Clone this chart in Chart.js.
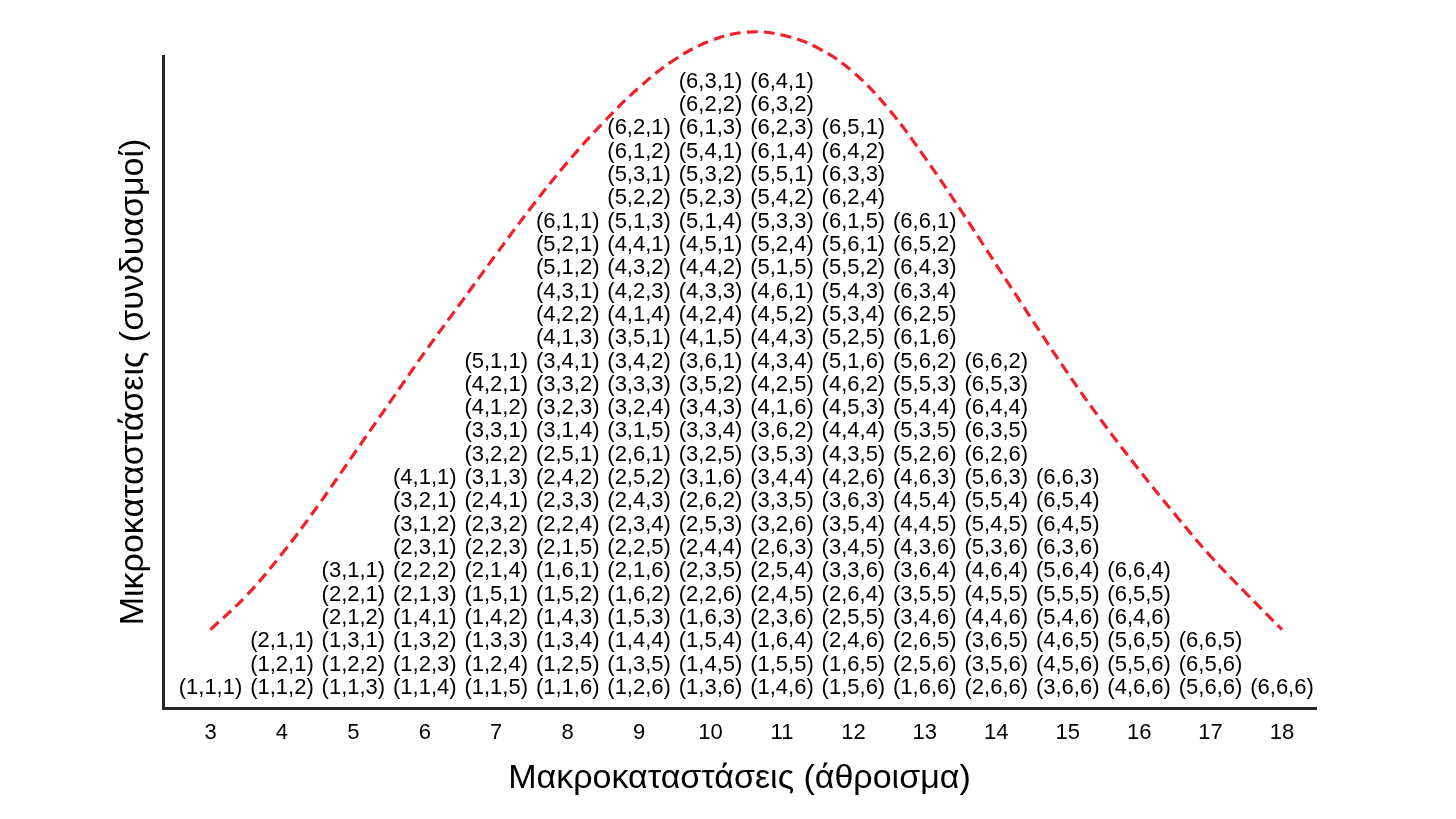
<!DOCTYPE html>
<html>
<head>
<meta charset="utf-8">
<script src="https://cdn.jsdelivr.net/npm/chart.js@4.4.1/dist/chart.umd.min.js"></script>
<style>
html,body{margin:0;padding:0;background:#ffffff;}
#wrap{width:1456px;height:819px;}
</style>
</head>
<body>
<div id="wrap"><canvas id="c" width="1456" height="819"></canvas></div>
<script>
// Macrostates (sum of three dice)
const sums = [3, 4, 5, 6, 7, 8, 9, 10, 11, 12, 13, 14, 15, 16, 17, 18];
// Number of microstates per macrostate
const counts = [1, 3, 6, 10, 15, 21, 25, 27, 27, 25, 21, 15, 10, 6, 3, 1];
// Microstates of each column, listed bottom to top
const columnCombos = [
  "111",
  "112 121 211",
  "113 122 131 212 221 311",
  "114 123 132 141 213 222 231 312 321 411",
  "115 124 133 142 151 214 223 232 241 313 322 331 412 421 511",
  "116 125 134 143 152 161 215 224 233 242 251 314 323 332 341 413 422 431 512 521 611",
  "126 135 144 153 162 216 225 234 243 252 261 315 324 333 342 351 414 423 432 441 513 522 531 612 621",
  "136 145 154 163 226 235 244 253 262 316 325 334 343 352 361 415 424 433 442 451 514 523 532 541 613 622 631",
  "146 155 164 236 245 254 263 326 335 344 353 362 416 425 434 443 452 461 515 524 533 542 551 614 623 632 641",
  "156 165 246 255 264 336 345 354 363 426 435 444 453 462 516 525 534 543 552 561 615 624 633 642 651",
  "166 256 265 346 355 364 436 445 454 463 526 535 544 553 562 616 625 634 643 652 661",
  "266 356 365 446 455 464 536 545 554 563 626 635 644 653 662",
  "366 456 465 546 555 564 636 645 654 663",
  "466 556 565 646 655 664",
  "566 656 665",
  "666"
];
// Red dashed envelope curve
const curveX = [3, 3.5, 4, 4.5, 5, 5.5, 6, 6.5, 7, 7.5, 8, 8.5, 9, 9.5, 10, 10.5, 11, 11.5, 12, 12.5, 13, 13.5, 14, 14.5, 15, 15.5, 16, 16.5, 17, 17.5, 18];
const curveY = [3.5, 4.95, 6.75, 8.8, 11.0, 13.2, 15.4, 17.5, 19.6, 21.65, 23.55, 25.25, 26.75, 27.95, 28.75, 29.12, 29.0, 28.45, 27.4, 25.8, 23.75, 21.5, 19.15, 16.8, 14.5, 12.35, 10.35, 8.45, 6.65, 5.05, 3.5];

const xTitle = "Μακροκαταστάσεις (άθροισμα)";
const yTitle = "Μικροκαταστάσεις (συνδυασμοί)";
const FONT = '"Liberation Sans", Arial, Helvetica, sans-serif';

const comboPoints = [];
sums.forEach((s, i) => {
  const list = columnCombos[i].split(' ').slice(0, counts[i]);
  list.forEach((c, k) => {
    comboPoints.push({ x: s, y: k + 1, label: '(' + c.split('').join(',') + ')' });
  });
});
const curvePoints = curveX.map((x, i) => ({ x: x, y: curveY[i] }));

const comboLabels = {
  id: 'comboLabels',
  afterDatasetsDraw(chart) {
    const meta = chart.getDatasetMeta(0);
    const ctx = chart.ctx;
    ctx.save();
    ctx.font = '22px ' + FONT;
    ctx.fillStyle = '#000000';
    ctx.textAlign = 'center';
    ctx.textBaseline = 'middle';
    meta.data.forEach((el, i) => {
      ctx.fillText(comboPoints[i].label, el.x, el.y);
    });
    ctx.restore();
  }
};

new Chart(document.getElementById('c'), {
  type: 'scatter',
  data: {
    datasets: [
      {
        label: 'combos',
        data: comboPoints,
        pointRadius: 0,
        pointHoverRadius: 0,
        showLine: false
      },
      {
        type: 'line',
        label: 'curve',
        data: curvePoints,
        borderColor: '#f0202a',
        borderWidth: 3.2,
        borderDash: [11, 6],
        pointRadius: 0,
        fill: false,
        tension: 0.4,
        clip: false
      }
    ]
  },
  options: {
    responsive: false,
    animation: false,
    events: [],
    layout: { padding: { top: 56, right: 140, left: 0, bottom: 0 } },
    plugins: { legend: { display: false }, tooltip: { enabled: false } },
    scales: {
      x: {
        type: 'linear',
        min: 2.335,
        max: 18.476,
        afterBuildTicks: (s) => { s.ticks = sums.map(v => ({ value: v })); },
        afterFit: (s) => { s.height = 111; },
        ticks: { color: '#000000', font: { size: 22, family: FONT }, padding: 12, maxRotation: 0, autoSkip: false },
        grid: { display: false, drawTicks: false },
        border: { display: true, color: '#262626', width: 3 },
        title: { display: true, text: xTitle, color: '#000000', font: { size: 34, family: FONT }, padding: { top: 0, bottom: 19.6 } }
      },
      y: {
        type: 'linear',
        min: 0.14,
        max: 28.1,
        afterFit: (s) => { s.width = 163; },
        ticks: { display: false },
        grid: { display: false, drawTicks: false },
        border: { display: true, color: '#262626', width: 3 },
        title: { display: true, text: yTitle, color: '#000000', font: { size: 34, family: FONT }, padding: { top: 113.6, bottom: 0 } }
      }
    }
  },
  plugins: [comboLabels]
});
</script>
</body>
</html>
